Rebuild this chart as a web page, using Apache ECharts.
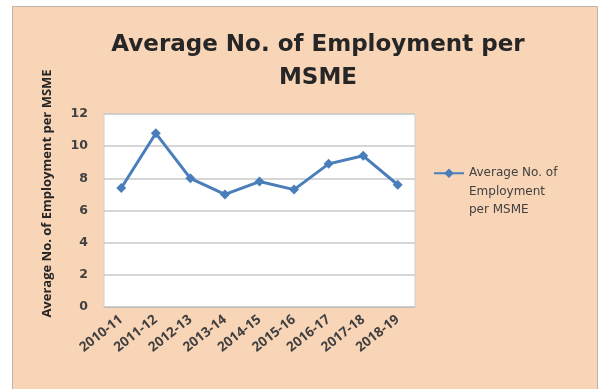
<!DOCTYPE html>
<html>
<head>
<meta charset="utf-8">
<script src="https://cdn.jsdelivr.net/npm/echarts@6/dist/echarts.min.js"></script>
<style>
  html, body { margin: 0; padding: 0; background: #ffffff; }
  #chart { width: 608px; height: 389px; }
</style>
</head>
<body>
<div id="chart"></div>
<script>
// Financial years on the category axis
const years = ['2010-11', '2011-12', '2012-13', '2013-14', '2014-15', '2015-16', '2016-17', '2017-18', '2018-19'];
// Average number of persons employed per MSME
const avgEmployment = [7.4, 10.8, 8.0, 7.0, 7.8, 7.3, 8.9, 9.4, 7.6];
// Value axis ticks
const yTicks = [0, 2, 4, 6, 8, 10, 12];

const seriesName = 'Average No. of Employment per MSME';
const wideFont = 'DejaVu Sans';
const font = 'Open Sans';
const textDark = '#404040';
const lineBlue = '#4a7ebb';

const chart = echarts.init(document.getElementById('chart'), null, { renderer: 'canvas' });

chart.setOption({
  backgroundColor: '#ffffff',
  animation: false,
  graphic: [
    {
      type: 'rect',
      z: -10,
      shape: { x: 12.5, y: 6.5, width: 585, height: 386 },
      style: { fill: '#f9d5b8', stroke: '#bdb3ab', lineWidth: 1 }
    }
  ],
  title: {
    text: 'Average No. of Employment per\nMSME',
    left: 313,
    top: 24,
    textAlign: 'center',
    textStyle: {
      fontFamily: wideFont,
      fontSize: 23,
      fontWeight: 'bold',
      color: '#262626',
      lineHeight: 33
    }
  },
  legend: {
    left: 428,
    top: 122,
    itemWidth: 30,
    itemHeight: 12,
    itemGap: 0,
    data: [seriesName],
    formatter: function () { return '\n\nAverage No. of\nEmployment\nper MSME'; },
    textStyle: {
      fontFamily: wideFont,
      fontSize: 12,
      color: textDark,
      lineHeight: 18.5
    }
  },
  grid: {
    left: 104,
    right: 193,
    top: 114,
    bottom: 82,
    show: true,
    backgroundColor: '#ffffff',
    borderColor: '#cfcfcf',
    borderWidth: 1
  },
  xAxis: {
    type: 'category',
    data: years,
    boundaryGap: true,
    axisLine: { show: true, lineStyle: { color: '#bdbdbd' } },
    axisTick: { show: false },
    axisLabel: {
      rotate: 38,
      margin: 11,
      fontFamily: font,
      fontSize: 13.5,
      fontWeight: 'bold',
      color: textDark
    }
  },
  yAxis: {
    type: 'value',
    min: yTicks[0],
    max: yTicks[yTicks.length - 1],
    interval: yTicks[1] - yTicks[0],
    name: seriesName,
    nameLocation: 'middle',
    nameGap: 50,
    nameTextStyle: {
      fontFamily: font,
      fontSize: 13,
      fontWeight: 'bold',
      color: '#262626',
      padding: [0, 0, 0, 34]
    },
    axisLine: { show: false },
    axisTick: { show: false },
    axisLabel: {
      margin: 16,
      fontFamily: wideFont,
      fontSize: 12.5,
      fontWeight: 'bold',
      color: textDark
    },
    splitLine: { show: true, lineStyle: { color: '#c9c9c9', width: 1.5 } }
  },
  series: [
    {
      name: seriesName,
      type: 'line',
      data: avgEmployment,
      symbol: 'diamond',
      symbolSize: 10,
      lineStyle: { color: lineBlue, width: 3 },
      itemStyle: { color: lineBlue }
    }
  ]
});
</script>
</body>
</html>
